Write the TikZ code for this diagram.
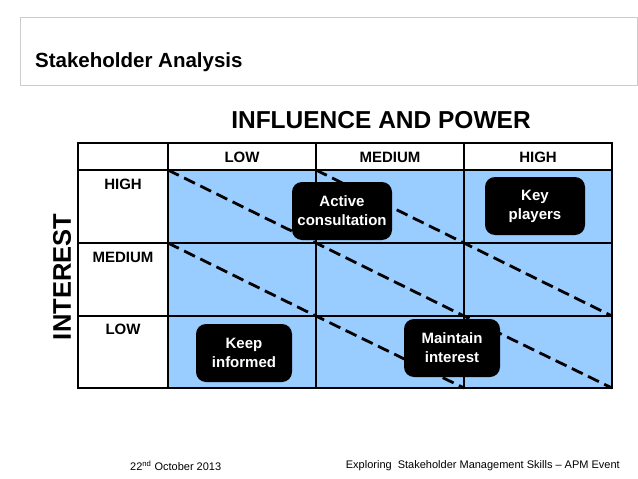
\documentclass[tikz,border=0pt]{standalone}
\usepackage{fontspec}
\setmainfont{Liberation Sans}
\definecolor{cellblue}{RGB}{153,204,255}
\begin{document}
\begin{tikzpicture}[x=1pt,y=-1pt,
    hdr/.style={font=\bfseries\fontsize{15}{17}\selectfont},
    player/.style={fill=black,rounded corners=10pt,text=white,align=center,
      font=\bfseries\fontsize{15}{19}\selectfont,minimum width=96pt,minimum height=58pt,inner sep=1pt},
    divide/.style={line width=2.8pt,dash pattern=on 12pt off 6pt}]
    \useasboundingbox (0,0) rectangle (638,479);
    % title band
    \draw[black!20] (20,17) rectangle (637,85);
    \node (title) at (35,62) [anchor=west,inner sep=0pt,font=\bfseries\fontsize{20.5}{24}\selectfont] {Stakeholder Analysis};
    \node (axisx) at (381,120) [font=\bfseries\fontsize{24.5}{28}\selectfont] {INFLUENCE AND POWER};
    \node (axisy) at (62,277) [rotate=90,font=\bfseries\fontsize{25.5}{28}\selectfont] {INTEREST};

    % grid
    \fill[cellblue] (168,170) rectangle (612,388);
    \coordinate (c00) at (168,170);
    \coordinate (c11) at (316,243);
    \coordinate (c22) at (464,316);
    \coordinate (c33) at (612,388);
    \coordinate (c01) at (168,243);
    \coordinate (c12) at (316,316);
    \coordinate (c23) at (464,388);
    \coordinate (c10) at (316,170);
    \coordinate (c21) at (464,243);
    \coordinate (c32) at (612,316);
    \draw[divide] (c00) -- (c11) -- (c22) -- (c33);
    \draw[divide] (c01) -- (c12) -- (c23);
    \draw[divide] (c10) -- (c21) -- (c32);
    \draw[line width=1.3pt] (78,143) rectangle (612,388);
    \foreach \x in {168,316,464} \draw[line width=1.3pt] (\x,143) -- (\x,388);
    \foreach \y in {170,243,316} \draw[line width=1.3pt] (78,\y) -- (612,\y);

    \node[hdr] (low) at (242,157) {LOW};
    \node[hdr] (medium) at (390,157) {MEDIUM};
    \node[hdr] (high) at (538,157) {HIGH};
    \node[hdr] (ihigh) at (123,184) {HIGH};
    \node[hdr] (imedium) at (123,257) {MEDIUM};
    \node[hdr] (ilow) at (123,329) {LOW};

    \node[player,minimum width=100pt] (active) at (342,211) {Active\\consultation};
    \node[player,minimum width=100pt] (key) at (535,206) {Key\\players};
    \node[player] (keep) at (244,353) {Keep\\informed};
    \node[player] (maintain) at (452,348) {Maintain\\interest};

    % footer
    \node (date) at (130,466) [anchor=west,inner sep=0pt,font=\fontsize{11}{13}\selectfont] {22\textsuperscript{nd} October 2013};
    \node (event) at (620,466) [anchor=east,inner sep=0pt,font=\fontsize{11}{13}\selectfont] {Exploring\ \ Stakeholder Management Skills -- APM Event};
\end{tikzpicture}
\end{document}
